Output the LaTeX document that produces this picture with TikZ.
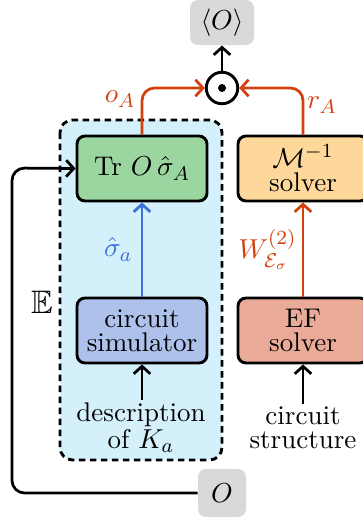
\documentclass[tikz,border=0pt]{standalone}
\usepackage{amsmath,amssymb}
\usetikzlibrary{arrows.meta}
\definecolor{graybox}{HTML}{D9D9D9}
\definecolor{regionblue}{HTML}{D4F0FA}
\definecolor{greenbox}{HTML}{9BD6A1}
\definecolor{orangebox}{HTML}{FED79A}
\definecolor{bluebox}{HTML}{ADC1EB}
\definecolor{efbox}{HTML}{E9AB98}
\definecolor{redline}{HTML}{D2400E}
\definecolor{blueline}{HTML}{3B6FD9}
\tikzset{
  blk/.style={draw=black, line width=1.15pt, rounded corners=3.2pt, minimum width=52pt, minimum height=26pt, align=center, inner sep=1pt},
  txt/.style={align=center, inner sep=1pt},
  grybox/.style={fill=graybox, rounded corners=3.2pt, inner sep=0pt},
  arr/.style={line width=1.1pt, -{Straight Barb[length=3pt,width=6.6pt]}},
}
\begin{document}
\begin{tikzpicture}[x=0.4pt,y=-0.4pt, font=\fontsize{10.8}{9.7}\selectfont]
\useasboundingbox (0,0) rectangle (362,521);
% dashed region
\draw[fill=regionblue, dash pattern=on 2.6pt off 1.8pt, line width=1.15pt, rounded corners=5pt] (60,120) rectangle (222,460);
% nodes
\node[grybox, minimum width=25.6pt, minimum height=18pt] (avg) at (222,22.5) {$\langle O\rangle$};
\node[draw, circle, line width=1.15pt, minimum size=12.6pt, inner sep=0pt] (dot) at (222,88) {};
\fill (dot.center) circle (1.6pt);
\node[blk, fill=greenbox] (tr) at (142,168.5) {Tr $O\,\hat\sigma_A$};
\node[blk, fill=orangebox] (minv) at (303,168.5) {$\mathcal{M}^{-1}$\\solver};
\node[blk, fill=bluebox] (sim) at (142,330.5) {circuit\\simulator};
\node[blk, fill=efbox] (ef) at (303,330.5) {EF\\solver};
\node[txt] (desc) at (141,428) {description\\of $K_a$};
\node[txt] (struct) at (303,428) {circuit\\structure};
\node[grybox, minimum width=19.2pt, minimum height=19.2pt] (obs) at (222,493) {$O$};
\node[font=\fontsize{13}{13}\selectfont] (E) at (42,302) {$\mathbb{E}$};
% arrows
\draw[arr] (dot.north) -- (avg.south);
\draw[arr, redline, rounded corners=5pt] (tr.north) -- (142,88) -- (dot.west);
\draw[arr, redline, rounded corners=5pt] (minv.north) -- (303,88) -- (dot.east);
\node[redline] (oA) at (120,99) {$o_A$};
\node[redline] (rA) at (322,105) {$r_A$};
\draw[arr, blueline] (sim.north) -- node[left, blueline, pos=0.5] {$\hat\sigma_a$} (tr.south);
\draw[arr, redline] (ef.north) -- node[left, redline, pos=0.5, inner sep=2pt] {$W^{(2)}_{\mathcal{E}_\sigma}$} (minv.south);
\draw[arr] (sim.south |- desc.north) -- (sim.south);
\draw[arr] (struct.north) -- (ef.south);
\draw[arr, rounded corners=5pt] (obs.west) -- (12,493) -- (12,168) -- (tr.west);
\end{tikzpicture}
\end{document}
